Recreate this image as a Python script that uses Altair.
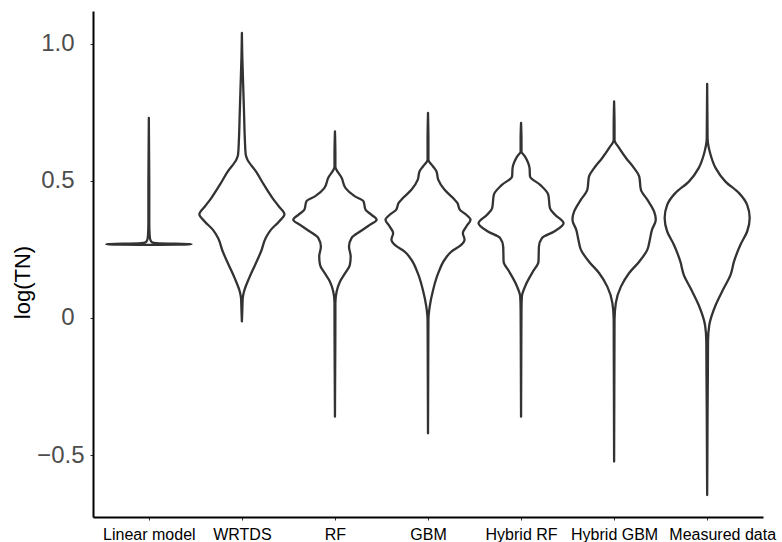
import altair as alt
import pandas as pd

categories = ["Linear model", "WRTDS", "RF", "GBM", "Hybrid RF", "Hybrid GBM", "Measured data"]

# violin outlines: log(TN) level and relative half-width (max = 1)
linear_y = [0.729, 0.5, 0.35, 0.30, 0.285, 0.276, 0.272, 0.270, 0.268, 0.266]
linear_w = [0, 0.01, 0.01, 0.02, 0.035, 0.07, 0.24, 1.0, 1.0, 0]

wrtds_y = [1.039, 0.95, 0.85, 0.75, 0.65, 0.595, 0.577, 0.534, 0.485, 0.437, 0.406,
           0.378, 0.351, 0.321, 0.291, 0.242, 0.193, 0.145, 0.096, 0.072, 0.03, -0.013]
wrtds_w = [0, 0.01, 0.03, 0.05, 0.07, 0.09, 0.13, 0.33, 0.52, 0.72, 0.87,
           1.0, 0.87, 0.68, 0.56, 0.45, 0.31, 0.17, 0.05, 0.02, 0.01, 0]

rf_y = [0.680, 0.60, 0.552, 0.510, 0.473, 0.443, 0.425, 0.394, 0.376, 0.358, 0.339, 0.315,
        0.291, 0.260, 0.224, 0.193, 0.163, 0.133, 0.096, 0.054, 0.0, -0.20, -0.360]
rf_w = [0, 0.01, 0.01, 0.16, 0.25, 0.47, 0.67, 0.72, 0.86, 0.98, 0.82, 0.59,
        0.39, 0.33, 0.37, 0.35, 0.24, 0.12, 0.04, 0.01, 0.01, 0.005, 0]

gbm_y = [0.747, 0.65, 0.577, 0.552, 0.534, 0.504, 0.467, 0.437, 0.419, 0.394, 0.376, 0.358,
         0.333, 0.309, 0.285, 0.266, 0.242, 0.212, 0.163, 0.102, 0.041, -0.007, -0.2, -0.421]
gbm_w = [0, 0.01, 0.01, 0.12, 0.20, 0.24, 0.39, 0.59, 0.69, 0.75, 0.90, 1.0,
         0.90, 0.82, 0.86, 0.78, 0.55, 0.39, 0.24, 0.12, 0.04, 0.01, 0.005, 0]

hrf_y = [0.711, 0.65, 0.607, 0.589, 0.546, 0.516, 0.485, 0.449, 0.400, 0.376, 0.345,
         0.315, 0.291, 0.260, 0.205, 0.169, 0.120, 0.078, 0.029, -0.15, -0.360]
hrf_w = [0, 0.01, 0.01, 0.09, 0.20, 0.21, 0.45, 0.64, 0.68, 0.80, 1.0,
         0.78, 0.49, 0.42, 0.41, 0.28, 0.11, 0.02, 0.01, 0.005, 0]

hgbm_y = [0.789, 0.70, 0.650, 0.619, 0.583, 0.546, 0.516, 0.467, 0.431, 0.388, 0.358,
          0.321, 0.285, 0.248, 0.205, 0.163, 0.114, 0.054, -0.007, -0.25, -0.524]
hgbm_w = [0, 0.01, 0.01, 0.12, 0.28, 0.47, 0.59, 0.63, 0.78, 0.94, 0.98,
          0.89, 0.84, 0.78, 0.59, 0.35, 0.16, 0.04, 0.01, 0.005, 0]

meas_y = [0.853, 0.75, 0.656, 0.595, 0.546, 0.497, 0.455, 0.412, 0.364, 0.315, 0.266,
          0.205, 0.157, 0.108, 0.047, -0.026, -0.086, -0.208, -0.330, -0.50, -0.646]
meas_w = [0, 0.005, 0.01, 0.08, 0.20, 0.43, 0.75, 0.94, 1.0, 0.94, 0.78,
          0.63, 0.55, 0.39, 0.20, 0.05, 0.02, 0.016, 0.01, 0.005, 0]

y_ticks = [-0.5, 0, 0.5, 1.0]

series = [(linear_y, linear_w), (wrtds_y, wrtds_w), (rf_y, rf_w), (gbm_y, gbm_w),
          (hrf_y, hrf_w), (hgbm_y, hgbm_w), (meas_y, meas_w)]

rows = []
for i, (name, (ys, ws)) in enumerate(zip(categories, series)):
    for yv, wv in zip(ys, ws):
        rows.append({"group": name, "pos": i + 1, "val": yv, "w": wv})
df = pd.DataFrame(rows).sort_values(["pos", "val"]).reset_index(drop=True)

HALF = 0.457
label_js = "[" + ",".join("'" + c + "'" for c in categories) + "]"

chart = (
    alt.Chart(df)
    .transform_calculate(
        left=f"datum.pos - {HALF} * datum.w",
        right=f"datum.pos + {HALF} * datum.w",
    )
    .mark_area(orient="horizontal", fill="white", stroke="#333333", strokeWidth=2.3,
               strokeJoin="round", interpolate="monotone")
    .encode(
        y=alt.Y("val:Q",
                scale=alt.Scale(domain=[-0.726, 1.119], nice=False, zero=False),
                axis=alt.Axis(values=y_ticks, title="log(TN)",
                              labelExpr="datum.value == 0 ? '0' : replace(format(datum.value, '.1f'), '-', '\u2212')",
                              labelFontSize=24, labelColor="#4D4D4D",
                              labelPadding={"condition": {"test": "datum.value < 0", "value": 6}, "value": 16},
                              tickSize=3, tickColor="#333333", tickWidth=1,
                              domainColor="black", domainWidth=2, grid=False,
                              titleFontSize=22, titleColor="black", titleFontWeight="normal",
                              titleAngle=-90, titleX=-64, titleY=271, titleAlign="center",
                              titleBaseline="alphabetic")),
        x=alt.X("left:Q",
                scale=alt.Scale(domain=[0.4, 7.6], nice=False, zero=False),
                axis=alt.Axis(values=[1, 2, 3, 4, 5, 6, 7], title=None,
                              labelExpr=label_js + "[datum.value - 1]",
                              labelFontSize=16, labelColor="black", labelPadding=6,
                              labelOffset={"condition": {"test": "datum.value == 7", "value": 15},
                                           "value": 0},
                              labelOverlap=False, labelFlush=False,
                              tickSize=3, tickColor="#333333", tickWidth=1,
                              domainColor="black", domainWidth=2, grid=False)),
        x2="right:Q",
        detail="group:N",
    )
    .properties(
        width=670, height=506,
        autosize=alt.AutoSizeParams(type="none"),
        padding={"left": 93, "top": 11, "right": 19, "bottom": 25},
        background="white",
    )
    .configure(font="Liberation Sans")
    .configure_view(strokeWidth=0)
)

chart.save("out.html", embed_options={"renderer": "svg", "actions": False})
